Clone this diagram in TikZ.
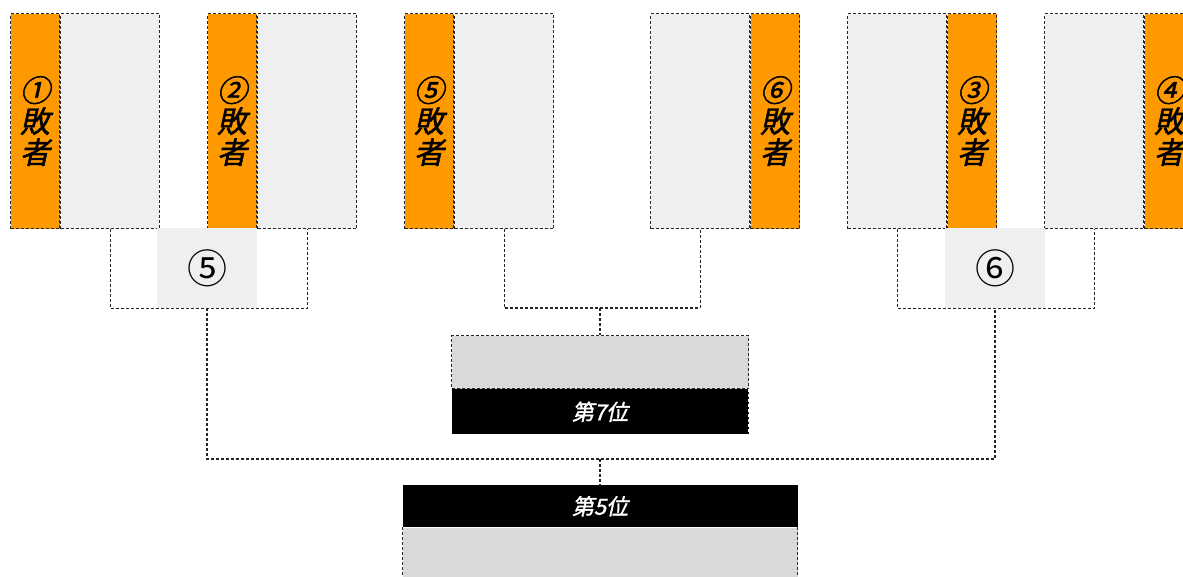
\documentclass[tikz,border=0pt]{standalone}
\usepackage{fontspec}
\newfontfamily\jpfont{Noto Sans CJK JP}
\newfontfamily\jpslant[FakeSlant=0.22, FakeBold=1.5]{Noto Sans CJK JP}
\usetikzlibrary{positioning}
\usepackage{xcolor}
\definecolor{LoserOrange}{RGB}{255, 153, 0}
\definecolor{SeatGray}{RGB}{239, 239, 239}
\definecolor{PlaceGray}{RGB}{217, 217, 217}

\begin{document}
\begin{tikzpicture}[x=1pt, y=-1pt,
  dots/.style={draw=black!85, line width=1.1pt, dash pattern=on 3pt off 2pt},
  loser/.style={dots, fill=LoserOrange, minimum width=49pt, minimum height=215pt, inner sep=0pt, align=center, font=\jpslant\fontsize{30}{31}\selectfont},
  seat/.style={dots, fill=SeatGray, minimum width=99pt, minimum height=215pt, inner sep=0pt},
  round/.style={fill=SeatGray, minimum width=100pt, minimum height=80pt, inner sep=0pt, font=\jpfont\fontsize{40}{40}\selectfont},
  place/.style={fill=PlaceGray, minimum width=#1, inner sep=0pt},
  rank/.style={fill=black, text=white, minimum width=#1, inner sep=0pt, font=\jpslant\fontsize{22}{22}\selectfont}]

\useasboundingbox (0,0) rectangle (1183,577);

% first round seats
\node[loser, anchor=north west] (l1) at (10,13) {①\\敗\\者};
\node[seat, right=0pt of l1] (s1) {};
\node[loser, anchor=north west] (l2) at (207,13) {②\\敗\\者};
\node[seat, right=0pt of l2] (s2) {};
\node[loser, anchor=north west] (l3) at (404,13) {⑤\\敗\\者};
\node[seat, right=0pt of l3] (s3) {};
\node[seat, anchor=north west] (s4) at (650,13) {};
\node[loser, right=0pt of s4] (l4) {⑥\\敗\\者};
\node[seat, anchor=north west] (s5) at (847,13) {};
\node[loser, right=0pt of s5] (l5) {③\\敗\\者};
\node[seat, anchor=north west] (s6) at (1044,13) {};
\node[loser, right=0pt of s6] (l6) {④\\敗\\者};

% matches
\node[round, anchor=north] (m5) at (207,228) {⑤};
\node[round, anchor=north] (m6) at (995,228) {⑥};
\coordinate (j7) at (600,308);
\coordinate (j5) at (600,459);

% places
\node[place=297pt, dots, minimum height=53pt, anchor=north] (p7) at (600,335) {};
\node[rank=297pt, minimum height=45pt, below=0pt of p7] (r7) {第7位};
\node[rank=395pt, minimum height=42pt, anchor=north] (r5) at (600,485) {第5位};
\node[place=395pt, minimum height=60pt, below=0pt of r5] (p5) {};

% brackets
\draw[dots] (s1.south) |- (m5.south) -| (s2.south);
\draw[dots] (s3.south) |- (j7) -| (s4.south);
\draw[dots] (s5.south) |- (m6.south) -| (s6.south);
\draw[dots] (j7) -- (p7.north);
\draw[dots] (m5.south) |- (j5) -| (m6.south);
\draw[dots] (j5) -- (r5.north);
\draw[dots, draw=white] (r7.north east) -- (r7.south east);
\draw[dots] (p5.north west) -- (p5.south west);
\draw[dots] (p5.north east) -- (p5.south east);

\end{tikzpicture}
\end{document}
